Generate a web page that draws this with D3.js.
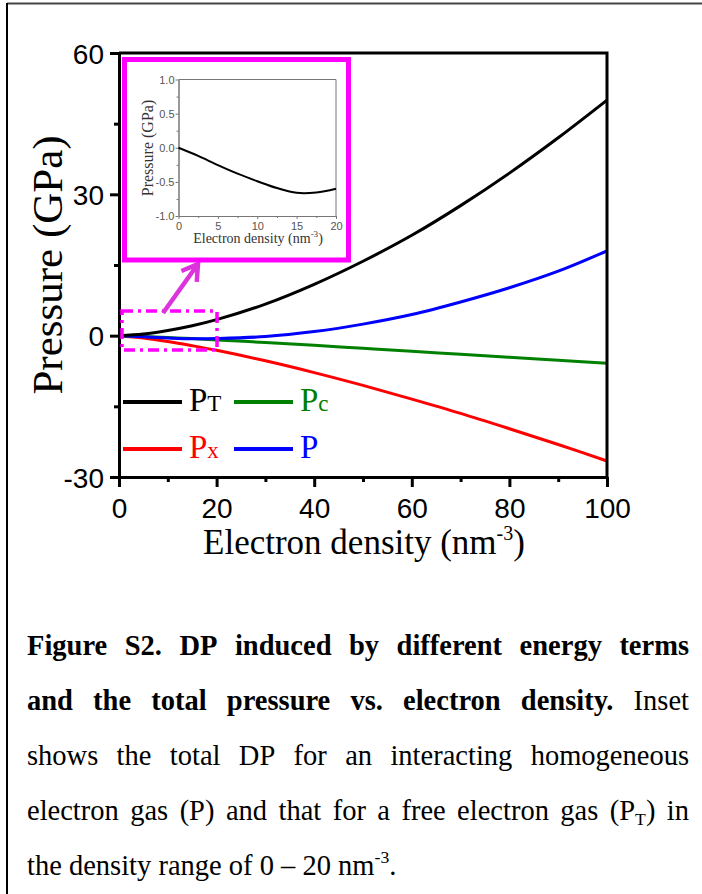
<!DOCTYPE html>
<html><head><meta charset="utf-8">
<script src="https://cdn.jsdelivr.net/npm/d3@7"></script>
<style>body{margin:0;background:#fff} svg{display:block}</style>
</head><body>
<script>
// ---------- data ----------
const density      = [0, 5, 10, 15, 20, 30, 40, 50, 60, 70, 80, 90, 100];
const pFree        = [0, 0.35, 1.1, 2.1, 3.4, 6.7, 10.9, 15.8, 21.3, 27.6, 34.5, 42.0, 50.0];   // P_T
const pExchange    = [0, -0.49, -1.23, -2.13, -3.11, -5.34, -7.84, -10.56, -13.47, -16.5, -19.75, -23.1, -26.6]; // P_x
const pCorrelation = [0, -0.2, -0.4, -0.62, -0.9, -1.45, -2.05, -2.68, -3.3, -3.95, -4.58, -5.22, -5.87]; // P_c
const pTotal       = [0, -0.25, -0.49, -0.66, -0.6, -0.19, 0.87, 2.45, 4.48, 7.14, 10.16, 13.68, 18.0]; // P
const insetDensity  = [0, 2.5, 5, 7.5, 10, 12.5, 15, 17.5, 20];
const insetPressure = [0, -0.12, -0.255, -0.38, -0.49, -0.59, -0.66, -0.655, -0.6];
const xTicks = [0, 20, 40, 60, 80, 100];
const xMinor = [10, 30, 50, 70, 90];
const yTicks = [-30, 0, 30, 60];
const yMinor = [-15, 15, 45];
const insetXTicks = [0, 5, 10, 15, 20];
const insetXMinor = [2.5, 7.5, 12.5, 17.5];
const insetYTicks = [-1, -0.5, 0, 0.5, 1];
const insetYMinor = [-0.75, -0.25, 0.25, 0.75];
const seriesNames = ["P", "P", "P", "P"];
const seriesSubs  = ["T", "c", "x", ""];
const seriesColors = ["#000000", "#008000", "#ff0000", "#0000ff"];

// ---------- setup ----------
const W = 702, H = 894;
const svg = d3.select("body").append("svg").attr("width", W).attr("height", H);
const SANS = "'Liberation Sans', Arial, sans-serif";
const SERIF = "'Liberation Serif', 'Times New Roman', serif";

// outer frame
svg.append("line").attr("x1", 7).attr("y1", 3.5).attr("x2", W).attr("y2", 3.5).attr("stroke", "#444").attr("stroke-width", 2);
svg.append("line").attr("x1", 7).attr("y1", 3).attr("x2", 7).attr("y2", H).attr("stroke", "#000").attr("stroke-width", 2);

const x = d3.scaleLinear().domain([0, 100]).range([119, 607]);
const y = d3.scaleLinear().domain([-30, 60]).range([477, 53]);

// curves
const series = [pFree, pCorrelation, pExchange, pTotal];
const line = d3.line().curve(d3.curveCatmullRom.alpha(0.5));
const drawOrder = [2, 1, 3, 0];
drawOrder.forEach(i => {
  svg.append("path")
    .attr("d", line(density.map((d, k) => [x(d), y(series[i][k])])))
    .attr("fill", "none").attr("stroke", seriesColors[i]).attr("stroke-width", 3);
});

// axes
const fmtInt = d => String(d);
const gx = svg.append("g").attr("transform", `translate(0,${y(-30)})`);
gx.call(d3.axisBottom(x).tickValues(xTicks).tickSize(10).tickSizeOuter(0).tickFormat(fmtInt));
const gxm = svg.append("g").attr("transform", `translate(0,${y(-30)})`);
gxm.call(d3.axisBottom(x).tickValues(xMinor).tickSize(5).tickSizeOuter(0).tickFormat(""));
const gy = svg.append("g").attr("transform", `translate(${x(0)},0)`);
gy.call(d3.axisLeft(y).tickValues(yTicks).tickSize(9).tickSizeOuter(0).tickFormat(fmtInt));
const gym = svg.append("g").attr("transform", `translate(${x(0)},0)`);
gym.call(d3.axisLeft(y).tickValues(yMinor).tickSize(5).tickSizeOuter(0).tickFormat(""));
[gx, gxm, gy, gym].forEach(g => {
  g.selectAll("path.domain").attr("stroke", "#000").attr("stroke-width", 3);
  g.selectAll(".tick line").attr("stroke", "#000").attr("stroke-width", 3);
  g.selectAll("text").attr("font-family", SANS).attr("font-size", 28).attr("fill", "#000");
});
gx.selectAll("text").attr("y", 41).attr("dy", null);
gy.selectAll("text").attr("x", -15).attr("dy", "0.36em");
// top & right frame
svg.append("path")
  .attr("d", `M${x(0)},${y(60)} H${x(100)} V${y(-30)}`)
  .attr("fill", "none").attr("stroke", "#000").attr("stroke-width", 3);

// axis titles
svg.append("text").attr("x", (x(0) + x(100)) / 2 + 1).attr("y", 554)
  .attr("text-anchor", "middle").attr("font-family", SERIF).attr("font-size", 35)
  .call(t => {
    t.append("tspan").text("Electron density (nm");
    t.append("tspan").attr("font-size", 20).attr("dy", -14).text("-3");
    t.append("tspan").attr("dy", 14).text(")");
  });
svg.append("text").attr("transform", `translate(62,265) rotate(-90)`)
  .attr("text-anchor", "middle").attr("font-family", SERIF).attr("font-size", 43)
  .text("Pressure (GPa)");

// legend (series index 0=P_T, 1=P_c, 2=P_x, 3=P)
const legendPos = [[123, 402], [234, 402], [123, 449], [234, 449]];
[0, 1, 2, 3].forEach((i, k) => {
  const [lx, ly] = legendPos[k];
  svg.append("line").attr("x1", lx).attr("x2", lx + 59).attr("y1", ly).attr("y2", ly)
    .attr("stroke", seriesColors[i]).attr("stroke-width", 4);
  const t = svg.append("text").attr("x", lx + 66).attr("y", ly + 9)
    .attr("font-family", SERIF).attr("font-size", 33).attr("fill", seriesColors[i]);
  t.append("tspan").text(seriesNames[i]);
  if (seriesSubs[i]) t.append("tspan").attr("font-size", 23).text(seriesSubs[i]);
});

// dash-dot zoom rectangle
svg.append("rect").attr("x", 122).attr("y", 311).attr("width", 95).attr("height", 39)
  .attr("fill", "none").attr("stroke", "#ff00ff").attr("stroke-width", 3.5)
  .attr("stroke-dasharray", "11,5,3,5");

// arrow
const tail = [163, 313], tip = [198, 264];
const ang = Math.atan2(tip[1] - tail[1], tip[0] - tail[0]);
const hl = 18, ha = 0.55;
const a1 = [tip[0] - hl * Math.cos(ang - ha), tip[1] - hl * Math.sin(ang - ha)];
const a2 = [tip[0] - hl * Math.cos(ang + ha), tip[1] - hl * Math.sin(ang + ha)];
svg.append("path").attr("d", `M${tail} L${tip} M${a1} L${tip} L${a2}`)
  .attr("fill", "none").attr("stroke", "#dd33dd").attr("stroke-width", 4.5)
  .attr("stroke-linecap", "butt").attr("stroke-linejoin", "miter");

// ---------- inset ----------
svg.append("rect").attr("x", 124.5).attr("y", 59.5).attr("width", 224).attr("height", 200.5)
  .attr("fill", "#fff").attr("stroke", "#ff00ff").attr("stroke-width", 5);
const ix = d3.scaleLinear().domain([0, 20]).range([178.5, 336]);
const iy = d3.scaleLinear().domain([-1, 1]).range([216, 79.5]);
const IG = "#777";
const gix = svg.append("g").attr("transform", `translate(0,${iy(-1)})`)
  .call(d3.axisBottom(ix).tickValues(insetXTicks).tickSize(3).tickSizeOuter(0).tickFormat(fmtInt));
const gixm = svg.append("g").attr("transform", `translate(0,${iy(-1)})`)
  .call(d3.axisBottom(ix).tickValues(insetXMinor).tickSize(2).tickSizeOuter(0).tickFormat(""));
const giy = svg.append("g").attr("transform", `translate(${ix(0)},0)`)
  .call(d3.axisLeft(iy).tickValues(insetYTicks).tickSize(3).tickSizeOuter(0).tickFormat(d => d.toFixed(1)));
const giym = svg.append("g").attr("transform", `translate(${ix(0)},0)`)
  .call(d3.axisLeft(iy).tickValues(insetYMinor).tickSize(2).tickSizeOuter(0).tickFormat(""));
[gix, gixm, giy, giym].forEach(g => {
  g.selectAll("path.domain").attr("stroke", IG).attr("stroke-width", 1);
  g.selectAll(".tick line").attr("stroke", IG).attr("stroke-width", 1);
  g.selectAll("text").attr("font-family", SANS).attr("font-size", 11).attr("fill", "#555");
});
gix.selectAll("text").attr("y", 14).attr("dy", null);
giy.selectAll("text").attr("x", -4).attr("dy", "0.36em");
svg.append("path").attr("d", `M${ix(0)},${iy(1)} H${ix(20)} V${iy(-1)}`)
  .attr("fill", "none").attr("stroke", IG).attr("stroke-width", 1);
svg.append("path")
  .attr("d", line(insetDensity.map((d, k) => [ix(d), iy(insetPressure[k])])))
  .attr("fill", "none").attr("stroke", "#000").attr("stroke-width", 2);
svg.append("text").attr("x", 258).attr("y", 243).attr("text-anchor", "middle")
  .attr("font-family", SERIF).attr("font-size", 14).attr("fill", "#333")
  .call(t => {
    t.append("tspan").text("Electron density (nm");
    t.append("tspan").attr("font-size", 9).attr("dy", -6).text("-3");
    t.append("tspan").attr("dy", 6).text(")");
  });
svg.append("text").attr("transform", `translate(153,148) rotate(-90)`)
  .attr("text-anchor", "middle").attr("font-family", SERIF).attr("font-size", 16).attr("fill", "#333")
  .text("Pressure (GPa)");

// ---------- caption ----------
const FS = 28.5;
const L = 27, R = 689;
const captionLines = [
  { y: 655, justify: true, words: "Figure S2. DP induced by different energy terms".split(" ").map(w => [[w, 1]]) },
  { y: 710, justify: true, words: [
    [["and", 1]], [["the", 1]], [["total", 1]], [["pressure", 1]], [["vs.", 1]], [["electron", 1]], [["density.", 1]], [["Inset", 0]] ] },
  { y: 765, justify: true, words: "shows the total DP for an interacting homogeneous".split(" ").map(w => [[w, 0]]) },
  { y: 820, justify: true, words: [
    [["electron", 0]], [["gas", 0]], [["(P)", 0]], [["and", 0]], [["that", 0]], [["for", 0]], [["a", 0]], [["free", 0]], [["electron", 0]], [["gas", 0]],
    [["(P", 0], ["T", 0, "sub"], [")", 0]], [["in", 0]] ] },
  { y: 875, justify: false, words: [
    [["the", 0]], [["density", 0]], [["range", 0]], [["of", 0]], [["0", 0]], [["–", 0]], [["20", 0]], [["nm", 0], ["-3", 0, "sup"], [".", 0]] ] }
];
captionLines.forEach(ln => {
  const els = ln.words.map(runs => {
    const t = svg.append("text").attr("y", ln.y).attr("font-family", SERIF).attr("font-size", FS).attr("fill", "#000");
    let shift = 0;
    runs.forEach(([txt, bold, kind]) => {
      const s = t.append("tspan").text(txt).attr("font-weight", bold ? "bold" : "normal");
      if (kind === "sub") { s.attr("font-size", FS * 0.62).attr("dy", 5); shift = -5; }
      else if (kind === "sup") { s.attr("font-size", FS * 0.62).attr("dy", -12); shift = 12; }
      else if (shift) { s.attr("dy", shift); shift = 0; }
    });
    return t;
  });
  const widths = els.map(e => e.node().getComputedTextLength());
  const total = d3.sum(widths);
  const gap = ln.justify ? (R - L - total) / (els.length - 1) : FS * 0.25;
  let cx = L;
  els.forEach((e, k) => { e.attr("x", cx); cx += widths[k] + gap; });
});
</script>
</body></html>
